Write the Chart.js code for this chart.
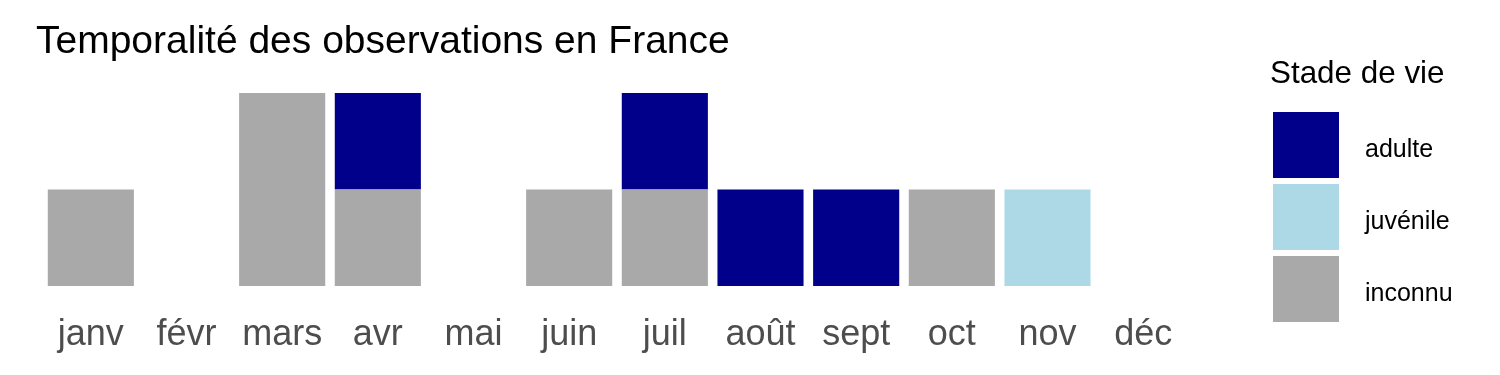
<!DOCTYPE html>
<html><head><meta charset="utf-8">
<script src="https://cdn.jsdelivr.net/npm/chart.js@4/dist/chart.umd.min.js"></script>
<style>html,body{margin:0;padding:0;background:#fff}#wrap{width:1500px;height:375px;position:relative}</style>
</head><body><div id="wrap"><canvas id="c" width="1500" height="375"></canvas></div>
<script>
const months = ["janv","févr","mars","avr","mai","juin","juil","août","sept","oct","nov","déc"];
const adulte   = [0,0,0,1,0,0,1,1,1,0,0,0];
const juvenile = [0,0,0,0,0,0,0,0,0,0,1,0];
const inconnu  = [1,0,2,1,0,1,1,0,0,1,0,0];
const chartTitle = "Temporalité des observations en France";
const legendTitle = "Stade de vie";
const FONT = "'Liberation Sans', Arial, sans-serif";

const overlay = {
  id:'overlay',
  afterDraw(chart){
    const ctx = chart.ctx;
    ctx.save();
    ctx.fillStyle = '#000';
    ctx.textBaseline = 'alphabetic';
    ctx.textAlign = 'left';
    ctx.font = `39px ${FONT}`;
    ctx.fillText(chartTitle, 36, 53);
    ctx.font = `31.4px ${FONT}`;
    ctx.fillText(legendTitle, 1270, 83);
    const ds = chart.data.datasets.slice().reverse();
    ds.forEach((d,i)=>{
      const y = 112 + i*72;
      ctx.fillStyle = d.backgroundColor;
      ctx.fillRect(1273, y, 66, 66);
      ctx.fillStyle = '#000';
      ctx.font = `25px ${FONT}`;
      ctx.fillText(d.label, 1365, y + 33 + 12);
    });
    ctx.restore();
  }
};

new Chart(document.getElementById('c'), {
  type:'bar',
  data:{
    labels: months,
    datasets:[
      {label:'inconnu', data:inconnu, backgroundColor:'#A9A9A9'},
      {label:'juvénile', data:juvenile, backgroundColor:'#ADD8E6'},
      {label:'adulte', data:adulte, backgroundColor:'#00008B'}
    ]
  },
  options:{
    responsive:false,
    animation:false,
    devicePixelRatio:1,
    datasets:{bar:{barPercentage:0.9, categoryPercentage:1, borderWidth:0}},
    layout:{padding:{left:43, right:309, top:93, bottom:0}},
    plugins:{legend:{display:false}, title:{display:false}, tooltip:{enabled:false}},
    scales:{
      x:{stacked:true, grid:{display:false}, border:{display:false},
         afterFit(scale){ scale.height = 89; },
         ticks:{color:'#4D4D4D', font:{family:FONT, size:36}, padding:19, maxRotation:0, autoSkip:false}},
      y:{stacked:true, display:false, min:0, max:2}
    }
  },
  plugins:[overlay]
});
</script></body></html>
